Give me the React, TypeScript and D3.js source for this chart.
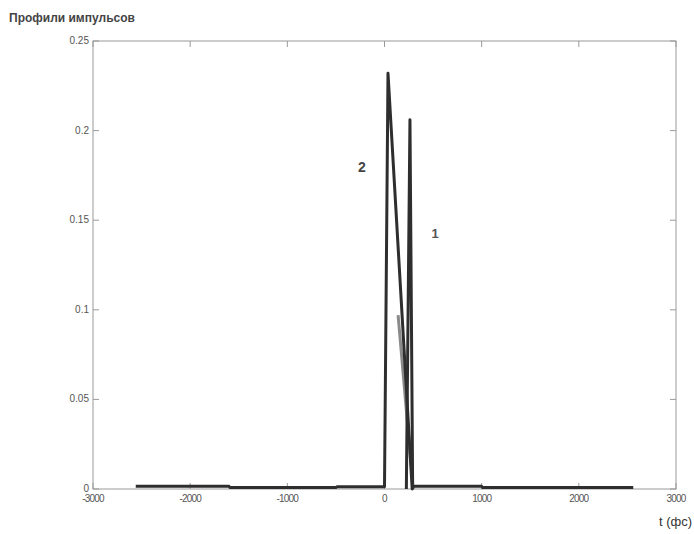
import React from "react"
import * as d3 from "d3"

// кривая 2 (импульс на входе)
const t2 = [-2560, -1600, -1590, -500, -490, 0, 36, 285, 300, 1000, 1010, 2560]
const v2 = [0.0015, 0.0015, 0.0008, 0.0008, 0.0012, 0.0012, 0.232, 0.0, 0.0015, 0.0015, 0.0008, 0.0008]
// кривая 1
const t1 = [225, 262, 290]
const v1 = [0.0, 0.206, 0.0]
// светлая линия
const t3 = [140, 290]
const v3 = [0.097, 0.003]

const xTicks = [-3000, -2000, -1000, 0, 1000, 2000, 3000]
const yTicks = [0, 0.05, 0.1, 0.15, 0.2, 0.25]

const W = 694
const H = 534
const m = { left: 93, right: 676, top: 41, bottom: 489 }

export default function App() {
  const x = d3.scaleLinear().domain([-3000, 3000]).range([m.left, m.right])
  const y = d3.scaleLinear().domain([0, 0.25]).range([m.bottom, m.top])
  const line = d3.line<[number, number]>().x(d => x(d[0])).y(d => y(d[1]))

  const s2 = t2.map((t, i) => [t, v2[i]] as [number, number])
  const s1 = t1.map((t, i) => [t, v1[i]] as [number, number])
  const s3 = t3.map((t, i) => [t, v3[i]] as [number, number])

  const axisColor = "#9a9a9a"
  const txt = "#555"

  return (
    <svg width={W} height={H} style={{ position: "absolute", left: 0, top: 0, background: "#fff" }}
      fontFamily="Arial, 'Liberation Sans', sans-serif">
      <rect x={0} y={0} width={W} height={H} fill="#fff" />
      <text x={9} y={22} fontSize={12} fontWeight="bold" fill="#444">Профили импульсов</text>

      {/* рамка */}
      <rect x={m.left} y={m.top} width={m.right - m.left} height={m.bottom - m.top}
        fill="none" stroke={axisColor} strokeWidth={1} />

      {yTicks.map(v => (
        <g key={"y" + v}>
          <line x1={m.left} x2={m.left + 6} y1={y(v)} y2={y(v)} stroke={axisColor} />
          <line x1={m.right} x2={m.right - 6} y1={y(v)} y2={y(v)} stroke={axisColor} />
          <text x={m.left - 4} y={y(v) + 3} fontSize={10} textAnchor="end" fill={txt}>{v}</text>
        </g>
      ))}
      {xTicks.map(v => (
        <g key={"x" + v}>
          <line x1={x(v)} x2={x(v)} y1={m.bottom} y2={m.bottom - 6} stroke={axisColor} />
          <line x1={x(v)} x2={x(v)} y1={m.top} y2={m.top + 6} stroke={axisColor} />
          <text x={x(v)} y={m.bottom + 13} fontSize={10} textAnchor="middle" fill={txt}
            letterSpacing={-0.8}>{v}</text>
        </g>
      ))}

      <path d={line(s3) ?? ""} fill="none" stroke="#8a8a8a" strokeWidth={3} />
      <path d={line(s2) ?? ""} fill="none" stroke="#2e2e2e" strokeWidth={3} strokeLinejoin="round" />
      <path d={line(s1) ?? ""} fill="none" stroke="#2e2e2e" strokeWidth={3} strokeLinejoin="round" />

      <text x={362} y={172} fontSize={14} fontWeight="bold" fill="#444" textAnchor="middle">2</text>
      <text x={435} y={238} fontSize={13} fontWeight="bold" fill="#555" textAnchor="middle">1</text>

      <text x={692} y={526} fontSize={13} textAnchor="end" fill="#333">t (фс)</text>
    </svg>
  )
}
